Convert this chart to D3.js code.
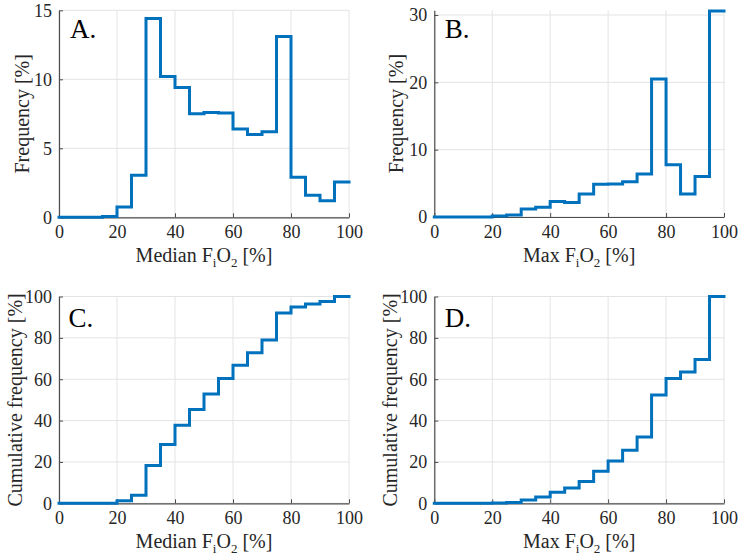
<!DOCTYPE html>
<html><head><meta charset="utf-8">
<script src="https://cdn.jsdelivr.net/npm/d3@7"></script>
<style>body{margin:0;background:#fff}svg{display:block}</style>
</head><body>
<svg id="c" width="741" height="560"></svg>
<script>
// Bin edges (FiO2 %), 5% bins
const binEdges = [0,5,10,15,20,25,30,35,40,45,50,55,60,65,70,75,80,85,90,95,100];
// A: frequency of median FiO2 [%]
const freqMedian = [0,0,0,0.05,0.75,3.05,14.4,10.2,9.4,7.5,7.6,7.55,6.4,6.0,6.2,13.1,2.9,1.6,1.2,2.55];
// B: frequency of max FiO2 [%]
const freqMax = [0,0,0,0,0.15,0.3,1.2,1.45,2.3,2.15,3.4,4.85,4.9,5.25,6.4,20.5,7.75,3.4,6.0,30.6];
// C: cumulative frequency of median FiO2 [%]
const cumMedian = [0,0,0,0.05,1.2,3.9,18.3,28.4,37.8,45.3,52.9,60.4,66.8,72.8,79.0,92.0,94.9,96.4,97.6,100];
// D: cumulative frequency of max FiO2 [%]
const cumMax = [0,0,0,0,0.1,0.4,1.6,3.0,5.3,7.4,10.6,15.5,20.4,25.7,32.0,52.4,60.3,63.5,69.5,100];

const xTicks = [0,20,40,60,80,100];
const yTicksFreqA = [0,5,10,15];
const yTicksFreqB = [0,10,20,30];
const yTicksCum = [0,20,40,60,80,100];
const panelLabels = ["A.","B.","C.","D."];

const panels = [
  {label:panelLabels[0], vals:freqMedian, yMax:15, yTicks:yTicksFreqA, ylabel:"Frequency [%]", xname:"Median ",
   x0:59, x1:349, yb:217.3, yt:10.3, ylx:29, lx:11, ly:27.5},
  {label:panelLabels[1], vals:freqMax, yMax:30.7, yTicks:yTicksFreqB, ylabel:"Frequency [%]", xname:"Max ",
   x0:434.3, x1:724, yb:217, yt:10.3, ylx:403, lx:10.5, ly:28},
  {label:panelLabels[2], vals:cumMedian, yMax:100, yTicks:yTicksCum, ylabel:"Cumulative frequency [%]", xname:"Median ",
   x0:59, x1:349, yb:503.3, yt:296.5, ylx:22, lx:9.5, ly:30},
  {label:panelLabels[3], vals:cumMax, yMax:100, yTicks:yTicksCum, ylabel:"Cumulative frequency [%]", xname:"Max ",
   x0:434.3, x1:724, yb:503.3, yt:296.5, ylx:397, lx:10.5, ly:30}
];

const svg = d3.select("#c");
const font = "Liberation Serif";
const axisCol = "#4d4d4d", textCol = "#262626", gridCol = "#e3e3e3", lineCol = "#0072BD";

panels.forEach(p => {
  const x = d3.scaleLinear().domain([0,100]).range([p.x0,p.x1]);
  const y = d3.scaleLinear().domain([0,p.yMax]).range([p.yb,p.yt]);
  const g = svg.append("g");

  // grid
  g.selectAll(".gx").data(xTicks).join("line")
    .attr("x1",d=>x(d)).attr("x2",d=>x(d)).attr("y1",p.yb).attr("y2",p.yt)
    .attr("stroke",gridCol).attr("stroke-width",1);
  g.selectAll(".gy").data(p.yTicks).join("line")
    .attr("x1",p.x0).attr("x2",p.x1).attr("y1",d=>y(d)).attr("y2",d=>y(d))
    .attr("stroke",gridCol).attr("stroke-width",1);

  // axes
  const xAxis = d3.axisBottom(x).tickValues(xTicks).tickSizeInner(-4).tickSizeOuter(0);
  const yAxis = d3.axisLeft(y).tickValues(p.yTicks).tickSizeInner(-4).tickSizeOuter(0);
  const gx = g.append("g").attr("transform",`translate(0,${p.yb})`).call(xAxis);
  const gy = g.append("g").attr("transform",`translate(${p.x0},0)`).call(yAxis);
  [gx,gy].forEach(a=>{
    a.attr("font-family",font).attr("font-size",18);
    a.select(".domain").attr("stroke",axisCol).attr("stroke-width",1.2);
    a.selectAll(".tick line").attr("stroke",axisCol);
    a.selectAll(".tick text").attr("fill",textCol);
  });
  gx.selectAll(".tick text").attr("y",20.5).attr("dy",0);
  gy.selectAll(".tick text").attr("x",-7).attr("dy","0.33em");

  // step line
  const pts = p.vals.map((v,i)=>[binEdges[i],v]);
  pts.push([binEdges[binEdges.length-1], p.vals[p.vals.length-1]]);
  g.append("path").datum(pts)
    .attr("d", d3.line().x(d=>x(d[0])).y(d=>y(d[1])).curve(d3.curveStepAfter))
    .attr("fill","none").attr("stroke",lineCol).attr("stroke-width",3)
    .attr("stroke-linejoin","miter").attr("stroke-linecap","square");

  // panel label
  g.append("text").attr("x",p.x0+p.lx).attr("y",p.yt+p.ly)
    .attr("fill","#000").attr("font-family",font).attr("font-size",27).text(p.label);

  // x label
  const xl = g.append("text").attr("x",(p.x0+p.x1)/2).attr("y",p.yb+45)
    .attr("text-anchor","middle").attr("fill",textCol)
    .attr("font-family",font).attr("font-size",20);
  xl.append("tspan").text(p.xname+"F");
  xl.append("tspan").attr("dy",5).attr("font-size",13).text("i");
  xl.append("tspan").attr("dy",-5).text("O");
  xl.append("tspan").attr("dy",5).attr("font-size",13).text("2");
  xl.append("tspan").attr("dy",-5).text(" [%]");

  // y label
  g.append("text").attr("transform",`translate(${p.ylx},${(p.yb+p.yt)/2}) rotate(-90)`)
    .attr("text-anchor","middle").attr("fill",textCol)
    .attr("font-family",font).attr("font-size",20).text(p.ylabel);
});
</script>
</body></html>
